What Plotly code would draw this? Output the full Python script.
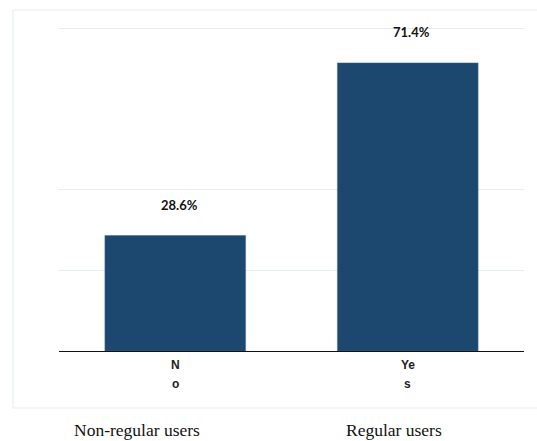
import plotly.graph_objects as go

categories = ["No", "Yes"]
tick_lines = [["N", "o"], ["Ye", "s"]]
values = [28.6, 71.4]
value_labels = ["28.6%", "71.4%"]
group_labels = ["Non-regular users", "Regular users"]
grid_values = [20, 40, 80]

W, H = 537, 441
ml, mr, mt, mb = 59, 13, 27, 90
pw, ph = W - ml - mr, H - mt - mb
ymax = 80.3

def py(pix):
    return (H - mb - pix) / ph

fig = go.Figure()
fig.add_trace(go.Bar(
    x=categories, y=values,
    marker=dict(color="#1C4870", line=dict(color="#3a6590", width=0.5)),
    width=0.605,
))

for c, v, t in zip(categories, values, value_labels):
    fig.add_annotation(x=c, y=v, text="<b>%s</b>" % t, showarrow=False,
                       yanchor="bottom", yshift=21, xshift=4,
                       font=dict(family="Lato", size=13, color="#111111"))

# category tick labels (wrapped, two lines)
for c, lines in zip(categories, tick_lines):
    for j, ln in enumerate(lines):
        fig.add_annotation(x=c, y=py(365 + 19 * j), yref="paper", text="<b>%s</b>" % ln,
                           showarrow=False, yanchor="middle",
                           font=dict(family="Liberation Sans", size=12, color="#222222"))

# group labels below chart
for i, g in enumerate(group_labels):
    xc = [137, 394][i]
    fig.add_annotation(x=(xc - ml) / pw, xref="paper", y=py(430), yref="paper",
                       text=g, showarrow=False, xanchor="center", yanchor="middle",
                       font=dict(family="Liberation Serif, Times New Roman, serif",
                                 size=17.5, color="#111111"))

# outer light frame
fig.add_shape(type="rect", xref="paper", yref="paper",
              x0=(13 - ml) / pw, x1=(W + 5 - ml) / pw,
              y0=py(408), y1=py(10),
              line=dict(color="#e6eeee", width=1.2), layer="below")

fig.update_layout(
    width=W, height=H,
    margin=dict(l=ml, r=mr, t=mt, b=mb),
    paper_bgcolor="white", plot_bgcolor="white",
    showlegend=False,
    xaxis=dict(range=[-0.5, 1.5], showline=True, linecolor="#111111", linewidth=1.2,
               tickvals=categories, showticklabels=False, ticks="",
               showgrid=False, zeroline=False),
    yaxis=dict(range=[0, ymax], tickvals=grid_values, showticklabels=False,
               showgrid=True, gridcolor="#e4eeee", gridwidth=1, zeroline=False,
               showline=False),
)

fig.write_html("out.html")
